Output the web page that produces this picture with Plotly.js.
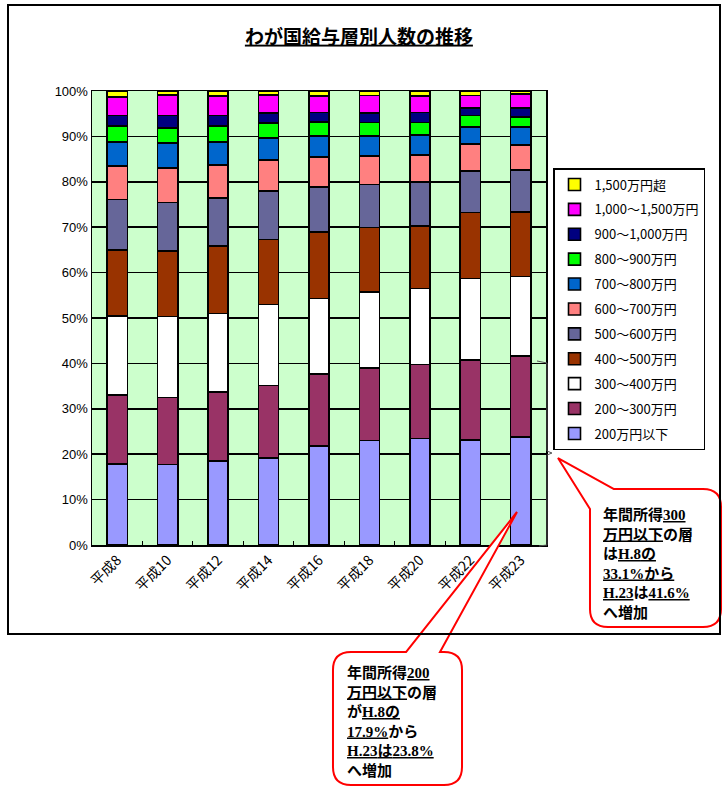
<!DOCTYPE html>
<html><head><meta charset="utf-8">
<script src="https://cdn.plot.ly/plotly-3.0.1.min.js"></script>
<style>html,body{margin:0;padding:0;background:#fff}</style>
</head><body>
<div id="chart" style="width:728px;height:787px"></div>
<script>
// ---- data (percent of earners by annual salary band) ----
const years = ['平成8','平成10','平成12','平成14','平成16','平成18','平成20','平成22','平成23'];
const seriesNames = ['200万円以下','200～300万円','300～400万円','400～500万円','500～600万円','600～700万円','700～800万円','800～900万円','900～1,000万円','1,000～1,500万円','1,500万円超'];
const under200   = [17.9,17.7,18.5,19.2,21.8,23.0,23.5,23.1,23.8];
const r200_300   = [15.2,14.8,15.2,15.9,15.9,16.0,16.3,17.6,17.8];
const r300_400   = [17.4,17.8,17.3,17.9,16.6,16.7,16.7,18.0,17.5];
const r400_500   = [14.5,14.5,14.9,14.3,14.6,14.2,13.8,14.5,14.3];
const r500_600   = [11.1,10.6,10.5,10.7,10.0,9.5,9.7,9.2,9.2];
const r600_700   = [7.4,7.6,7.3,6.8,6.5,6.3,5.9,5.9,5.5];
const r700_800   = [5.3,5.5,5.1,4.8,4.7,4.4,4.4,3.8,4.0];
const r800_900   = [3.5,3.3,3.5,3.3,3.1,3.0,2.8,2.5,2.2];
const r900_1000  = [2.3,2.8,2.3,2.3,2.1,2.0,2.2,1.7,1.9];
const r1000_1500 = [4.1,4.5,4.3,3.9,3.6,3.9,3.6,2.7,3.1];
const over1500   = [1.3,0.9,1.1,0.9,1.1,1.0,1.1,1.0,0.7];
const seriesValues = [under200,r200_300,r300_400,r400_500,r500_600,r600_700,r700_800,r800_900,r900_1000,r1000_1500,over1500];
const seriesColors = ['#9999FF','#993366','#FFFFFF','#993300','#666699','#FF8080','#0066CC','#00FF00','#000080','#FF00FF','#FFFF00'];

// ---- layout geometry helpers (pixel -> paper) ----
const PL=92, PR=546, PT=91, PB=545;
const px = x => (x-PL)/(PR-PL);
const py = y => (PB-y)/(PB-PT);
const P = (x,y) => px(x).toFixed(4)+','+py(y).toFixed(4);

const N = seriesNames.length;
const traces = seriesNames.map((name,i)=>({
  type:'bar', name:name, x:years, y:seriesValues[i],
  legendgroup:'g'+i, legendrank:(N-i)*10,
  marker:{color:seriesColors[i], line:{color:'#000000', width:1.6}},
  hoverinfo:'x+y+name'
}));

function bubbleTopLeftTail(L,T,R,B,r,tip,a,b){
  return 'M'+P(a[0],a[1])+' L'+P(tip[0],tip[1])+' L'+P(b[0],b[1])+
    ' L'+P(L,B-r)+' Q'+P(L,B)+' '+P(L+r,B)+
    ' L'+P(R-r,B)+' Q'+P(R,B)+' '+P(R,B-r)+
    ' L'+P(R,T+r)+' Q'+P(R,T)+' '+P(R-r,T)+' Z';
}
function bubbleTopTail(L,T,R,B,r,tip,a,b){
  return 'M'+P(a[0],a[1])+' L'+P(tip[0],tip[1])+' L'+P(b[0],b[1])+
    ' L'+P(R-r,T)+' Q'+P(R,T)+' '+P(R,T+r)+
    ' L'+P(R,B-r)+' Q'+P(R,B)+' '+P(R-r,B)+
    ' L'+P(L+r,B)+' Q'+P(L,B)+' '+P(L,B-r)+
    ' L'+P(L,T+r)+' Q'+P(L,T)+' '+P(L+r,T)+' Z';
}

const shapes = [
  // bracket beside the last bar
  {type:'path', xref:'paper', yref:'paper', layer:'above',
   path:'M'+P(537,361)+' L'+P(547,363)+' L'+P(547,451)+' L'+P(552,453)+' L'+P(547,455)+' L'+P(547,545)+' L'+P(539,546),
   line:{color:'#555555', width:1}},
  // callout 1
  {type:'path', xref:'paper', yref:'paper', layer:'above',
   path:bubbleTopLeftTail(590,489,721,627,18,[558,458],[614,489],[590,509]),
   fillcolor:'#FFFFFF', line:{color:'#FF0000', width:2}},
  // callout 2
  {type:'path', xref:'paper', yref:'paper', layer:'above',
   path:bubbleTopTail(333,652,462,785,18,[517,512],[406,652],[440,652]),
   fillcolor:'#FFFFFF', line:{color:'#FF0000', width:2}},
  // outer frame
  {type:'rect', xref:'paper', yref:'paper', layer:'above',
   x0:px(8), x1:px(720), y0:py(5), y1:py(634),
   line:{color:'#000000', width:2}}
];

const SER = s => '<span style="font-family:Liberation Serif">'+s+'</span>';
const t1 = '<b>年間所得<u>'+SER('300')+'</u><br><u>万円以下</u>の層<br>は<u>'+SER('H.8')+'の</u><br><u>'+SER('33.1%')+'から</u><br><u>'+SER('H.23')+'</u>は<u>'+SER('41.6%')+'</u><br>へ増加</b>';
const t2 = '<b>年間所得<u>'+SER('200')+'</u><br><u>万円以下</u>の層<br>が<u>'+SER('H.8')+'の</u><br><u>'+SER('17.9%')+'</u>から<br><u>'+SER('H.23')+'は'+SER('23.8%')+'</u><br>へ増加</b>';

const annotations = [
  {xref:'paper', yref:'paper', x:px(601), y:py(501), xanchor:'left', yanchor:'top', align:'left',
   showarrow:false, text:t1, font:{family:'Noto Sans CJK JP', size:15, color:'#000000'}},
  {xref:'paper', yref:'paper', x:px(345), y:py(659), xanchor:'left', yanchor:'top', align:'left',
   showarrow:false, text:t2, font:{family:'Noto Sans CJK JP', size:15, color:'#000000'}}
];

const layout = {
  width:728, height:787,
  margin:{l:PL, r:728-PR, t:PT, b:787-PB, pad:0},
  paper_bgcolor:'#FFFFFF', plot_bgcolor:'#CCFFCC',
  barmode:'stack', bargap:0.6,
  title:{text:'<b><u>わが国給与層別人数の推移</u></b>', x:0.493, xanchor:'center', y:1-37/787, yanchor:'middle', yref:'container',
         font:{family:'Noto Sans CJK JP', size:19, color:'#000000'}},
  xaxis:{type:'category', showline:true, linecolor:'#000000', linewidth:1.5, mirror:true,
         ticks:'inside', tickson:'boundaries', ticklen:4, tickcolor:'#000000',
         tickangle:-45, tickfont:{family:'Noto Sans CJK JP', size:14, color:'#000000'}, showgrid:false},
  yaxis:{range:[0,100], dtick:10, ticksuffix:'%', showline:true, linecolor:'#000000', linewidth:1.5, mirror:true,
         showgrid:true, gridcolor:'#000000', gridwidth:1.5, zeroline:false,
         ticks:'', tickfont:{family:'Liberation Sans, Arial', size:13, color:'#000000'}},
  legend:{x:px(553), y:py(168), xanchor:'left', yanchor:'top', traceorder:'grouped', tracegroupgap:5,
          bordercolor:'#000000', borderwidth:1.5, bgcolor:'#FFFFFF',
          font:{family:'Noto Sans CJK JP', size:13, color:'#000000'}},
  shapes:shapes, annotations:annotations, showlegend:true
};

Plotly.newPlot('chart', traces, layout, {displayModeBar:false, staticPlot:true});
</script>
</body></html>
